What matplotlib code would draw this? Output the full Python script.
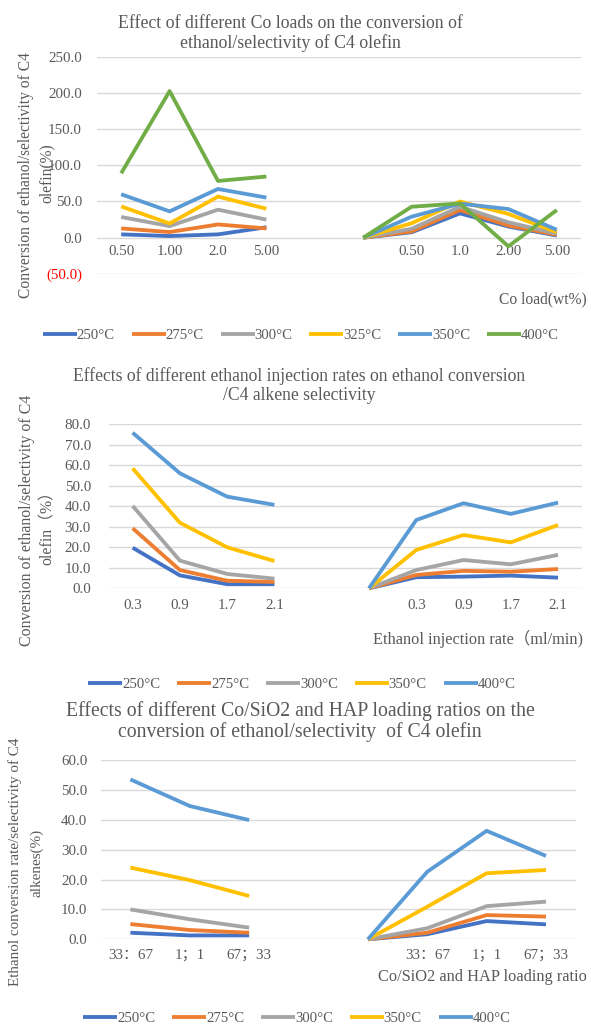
import numpy as np
import matplotlib.pyplot as plt

W, H = 591, 1025
plt.rcParams["font.family"] = ["Liberation Serif", "Noto Sans CJK SC", "DejaVu Sans"]
TXT = "#595959"
GRID = "#D9D9D9"
nan = np.nan

# chart 1: Co load
load_cats = ["0.50", "1.00", "2.0", "5.00", "", "", "0.50", "1.0", "2.00", "5.00"]
load_names = ["250°C", "275°C", "300°C", "325°C", "350°C", "400°C"]
load_250 = [4.6, 2.3, 4.6, 14.4, nan, 0, 7.5, 33.6, 15.4, 3.0]
load_275 = [12.8, 7.8, 18.3, 12.8, nan, 0, 8.6, 38.2, 16.8, 4.0]
load_300 = [28.6, 16.0, 38.7, 25.0, nan, 0, 12.3, 42.8, 21.3, 5.5]
load_325 = [43.2, 19.6, 56.8, 40.0, nan, 0, 20.0, 50.0, 32.8, 7.7]
load_350 = [60.0, 36.4, 67.3, 55.4, nan, 0, 29.0, 47.0, 39.6, 10.9]
load_400 = [89.0, 202.5, 78.4, 84.5, nan, 0, 42.8, 47.3, -11.9, 38.2]

# chart 2: ethanol injection rate
rate_cats = ["0.3", "0.9", "1.7", "2.1", "", "", "0.3", "0.9", "1.7", "2.1"]
rate_names = ["250°C", "275°C", "300°C", "350°C", "400°C"]
rate_250 = [19.8, 6.3, 2.0, 2.0, nan, 0, 5.4, 5.7, 6.2, 5.2]
rate_275 = [29.3, 8.9, 3.7, 3.1, nan, 0, 6.5, 8.5, 8.1, 9.4]
rate_300 = [40.2, 13.5, 7.0, 4.7, nan, 0, 8.9, 13.8, 11.7, 16.3]
rate_350 = [58.5, 32.0, 20.0, 13.3, nan, 0, 18.7, 26.0, 22.4, 30.9]
rate_400 = [75.9, 56.1, 44.7, 40.7, nan, 0, 33.3, 41.5, 36.3, 41.8]

# chart 3: Co/SiO2 : HAP ratio
ratio_cats = ["33：67", "1；1", "67；33", "", "", "33：67", "1；1", "67；33"]
ratio_names = ["250°C", "275°C", "300°C", "350°C", "400°C"]
ratio_250 = [2.2, 1.3, 1.3, nan, 0, 1.7, 6.1, 5.0]
ratio_275 = [5.1, 3.1, 2.2, nan, 0, 2.2, 8.1, 7.6]
ratio_300 = [10.0, 6.7, 3.9, nan, 0, 3.7, 11.1, 12.6]
ratio_350 = [24.0, 19.8, 14.5, nan, 0, 10.9, 22.1, 23.2]
ratio_400 = [53.5, 44.6, 39.9, nan, 0, 22.6, 36.3, 27.9]

c_blue, c_orange, c_grey = "#4472C4", "#ED7D31", "#A5A5A5"
c_yellow, c_lblue, c_green = "#FFC000", "#5B9BD5", "#70AD47"


def fx(x):
    return x / W


def fy(y):
    return 1 - y / H


def panel(box, cats, series, names, colors, ylim, ystep, ypad, xpad):
    l, t, r, b = box
    ax = fig.add_axes([fx(l), fy(b), fx(r) - fx(l), fy(t) - fy(b)])
    x = np.arange(len(cats))
    for vals, nm, col in zip(series, names, colors):
        ax.plot(x, vals, color=col, lw=2.75, label=nm, clip_on=False,
                solid_joinstyle="round", solid_capstyle="butt")
    ax.set_xlim(-0.5, len(cats) - 0.5)
    ax.set_ylim(*ylim)
    yt = np.arange(ylim[0], ylim[1] + ystep / 2, ystep)
    ax.set_yticks(yt)
    labs = []
    for v in yt:
        labs.append(f"({abs(v):.1f})" if v < 0 else f"{v:.1f}")
    ax.set_yticklabels(labs)
    ax.set_xticks(x)
    ax.set_xticklabels(cats)
    ax.grid(axis="y", color=GRID, lw=1.0)
    ax.set_axisbelow(True)
    for s in ax.spines.values():
        s.set_visible(False)
    ax.spines["bottom"].set_position(("data", 0))
    ax.tick_params(axis="y", length=0, pad=ypad, labelsize=10.8, labelcolor=TXT)
    ax.tick_params(axis="x", length=0, pad=xpad, labelsize=10.8, labelcolor=TXT)
    for lab, v in zip(ax.get_yticklabels(), yt):
        if v < 0:
            lab.set_color("red")
    return ax


def legend(ax, cx, cy, n):
    ax.legend(loc="center", bbox_to_anchor=(fx(cx), fy(cy)),
              bbox_transform=fig.transFigure, ncol=n, frameon=False,
              fontsize=10.6, labelcolor=TXT, handlelength=2.3, handletextpad=0.0,
              columnspacing=1.15)


fig = plt.figure(figsize=(W / 100, H / 100), dpi=100)

# ---- top
ax1 = panel((97, 56.7, 581, 273.9), load_cats,
            [load_250, load_275, load_300, load_325, load_350, load_400],
            load_names, [c_blue, c_orange, c_grey, c_yellow, c_lblue, c_green],
            (-50, 250), 50, 10.8, 5.5)
fig.text(fx(290), fy(23), "Effect of different Co loads on the conversion of",
         ha="center", va="center", fontsize=12.8, color=TXT)
fig.text(fx(290), fy(43), "ethanol/selectivity of C4 olefin",
         ha="center", va="center", fontsize=12.8, color=TXT)
fig.text(fx(26), fy(175), "Conversion of ethanol/selectivity of C4", rotation=90,
         ha="center", va="center", fontsize=11.2, color=TXT)
fig.text(fx(47), fy(173), "olefin(%)", rotation=90,
         ha="center", va="center", fontsize=11.2, color=TXT)
fig.text(fx(587), fy(299), "Co load(wt%)", ha="right", va="center",
         fontsize=11.2, color=TXT)
legend(ax1, 301, 335, 6)

# ---- middle
ax2 = panel((109, 424.3, 581.7, 588.3), rate_cats,
            [rate_250, rate_275, rate_300, rate_350, rate_400],
            rate_names, [c_blue, c_orange, c_grey, c_yellow, c_lblue],
            (0, 80), 10, 13, 7.7)
fig.text(fx(299), fy(376), "Effects of different ethanol injection rates on ethanol conversion",
         ha="center", va="center", fontsize=12.7, color=TXT)
fig.text(fx(299), fy(396), "/C4 alkene selectivity",
         ha="center", va="center", fontsize=12.7, color=TXT)
fig.text(fx(27), fy(520), "Conversion of ethanol/selectivity of C4", rotation=90,
         ha="center", va="center", fontsize=11.4, color=TXT)
fig.text(fx(48), fy(524), "olefin（%）", rotation=90,
         ha="center", va="center", fontsize=11.4, color=TXT)
fig.text(fx(583), fy(639), "Ethanol injection rate（ml/min)", ha="right", va="center",
         fontsize=11.8, color=TXT)
legend(ax2, 302, 684, 5)

# ---- bottom
ax3 = panel((100.7, 760, 575.7, 939.3), ratio_cats,
            [ratio_250, ratio_275, ratio_300, ratio_350, ratio_400],
            ratio_names, [c_blue, c_orange, c_grey, c_yellow, c_lblue],
            (0, 60), 10, 9.6, 7)
fig.text(fx(300), fy(711), "Effects of different Co/SiO2 and HAP loading ratios on the",
         ha="center", va="center", fontsize=14.2, color=TXT)
fig.text(fx(300), fy(732), "conversion of ethanol/selectivity  of C4 olefin",
         ha="center", va="center", fontsize=14.2, color=TXT)
fig.text(fx(15), fy(862), "Ethanol conversion rate/selectivity of C4", rotation=90,
         ha="center", va="center", fontsize=10.9, color=TXT)
fig.text(fx(37), fy(863), "alkenes(%)", rotation=90,
         ha="center", va="center", fontsize=10.9, color=TXT)
fig.text(fx(378), fy(977), "Co/SiO2 and HAP loading ratio", ha="left", va="center",
         fontsize=11.8, color=TXT)
legend(ax3, 297, 1018, 5)

fig.savefig("out.png", dpi=100)
